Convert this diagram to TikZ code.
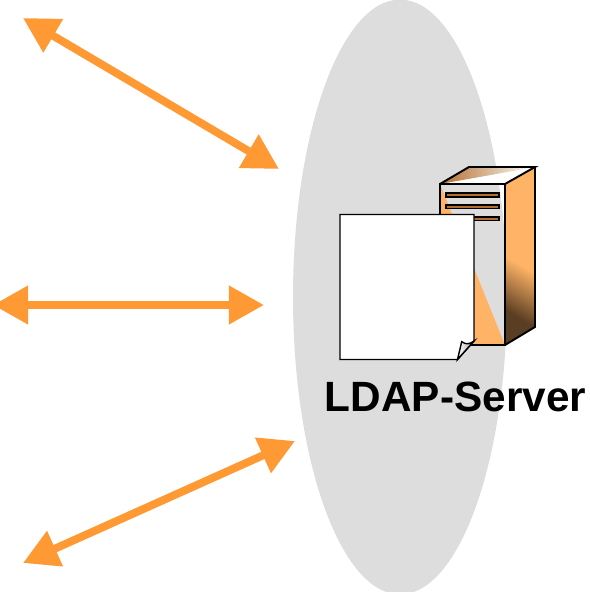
\documentclass[tikz,border=0pt]{standalone}
\usepackage{fontspec}
\setmainfont{Liberation Sans}
\usetikzlibrary{arrows.meta,shapes.geometric}
\definecolor{cloudgray}{RGB}{221,221,221}
\definecolor{linkorange}{RGB}{255,153,51}
\definecolor{caseorange}{RGB}{255,179,102}
\definecolor{casebrown}{RGB}{90,62,35}
\definecolor{slotbrown}{RGB}{178,110,45}
\pgfdeclareverticalshading{casefade}{100bp}{color(0bp)=(casebrown); color(28bp)=(casebrown); color(47bp)=(caseorange); color(100bp)=(caseorange)}
\tikzset{
  link/.style={draw=linkorange, line width=4.5pt, {Triangle[length=20pt,width=21pt]}-{Triangle[length=20pt,width=21pt]}},
  edge/.style={draw=black, line width=1.1pt, line join=miter},
  slot/.style={draw=black, line width=0.9pt, fill=slotbrown},
  sheet/.style={draw=black, line width=0.8pt}
}
\begin{document}
\begin{tikzpicture}[x=0.02cm,y=-0.02cm]
\useasboundingbox (0,0) rectangle (589,592);
\node at (400,297) [fill=cloudgray, shape=ellipse, inner sep=0pt, minimum width=4.28cm, minimum height=11.9cm](Cloud){};
% server
\coordinate (FrontTL) at (440,184);
\coordinate (FrontTR) at (505,184);
\coordinate (FrontBR) at (505,345);
\coordinate (FrontBL) at (440,345);
\coordinate (BackTL) at (469,167);
\coordinate (BackTR) at (535,167);
\coordinate (BackBR) at (535,327);
\fill[caseorange] (FrontTL) -- (FrontBR) -- (FrontBL) -- cycle;
\shade[shading=casefade, shading angle=-30] (FrontTR) -- (BackTR) -- (BackBR) -- (FrontBR) -- cycle;
\fill[white] (FrontTL) -- (BackTR) -- (FrontTR) -- cycle;
\shade[left color=slotbrown, middle color=caseorange, right color=white] (FrontTL) -- (BackTL) -- (BackTR) -- cycle;
\draw[edge] (FrontTL) rectangle (FrontBR);
\draw[edge] (FrontTL) -- (BackTL) -- (BackTR) -- (FrontTR);
\draw[edge] (BackTR) -- (BackBR) -- (FrontBR);
\node at (445,192) [slot, inner sep=0pt, anchor=north west, minimum width=1.06cm, minimum height=0.08cm](Slot1){};
\node at (445,204) [slot, inner sep=0pt, anchor=north west, minimum width=1.06cm, minimum height=0.07cm](Slot2){};
\node at (445,216) [slot, inner sep=0pt, anchor=north west, minimum width=1.06cm, minimum height=0.07cm](Slot3){};
% sheet
\draw[sheet, fill=white] (340,214.5) -- (474,214.5) -- (474,341) -- (457.5,359.5) -- (340,359.5) -- cycle;
\shade[left color=white, right color=gray!70] (461.7,341.7) .. controls (466,345) and (470,344) .. (474,341) -- (457.5,359.5) -- cycle;
\draw[sheet] (461.7,341.7) .. controls (466,345) and (470,344) .. (474,341) -- (457.5,359.5) -- cycle;
\node at (455.5,397) [font=\fontsize{24.1}{26}\selectfont\bfseries, inner sep=0pt](Label){LDAP-Server};
% links
\coordinate (A1) at (23,18);
\coordinate (B1) at (279,169);
\coordinate (A2) at (-7,305);
\coordinate (B2) at (264,305);
\coordinate (A3) at (23,563);
\coordinate (B3) at (295,441);
\draw[link] (A1) -- (B1);
\draw[link] (A2) -- (B2);
\draw[link] (A3) -- (B3);
\end{tikzpicture}
\end{document}
